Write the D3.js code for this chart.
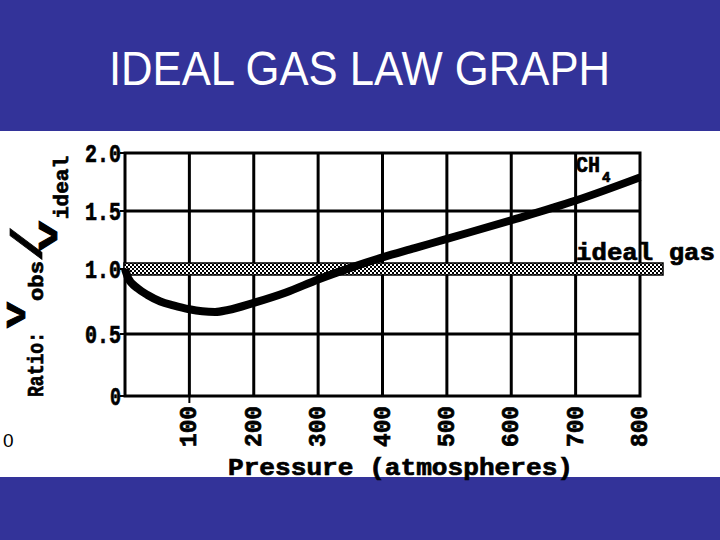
<!DOCTYPE html>
<html>
<head>
<meta charset="utf-8">
<script src="https://cdn.jsdelivr.net/npm/d3@7"></script>
<style>
  html, body { margin: 0; padding: 0; background: #fff; }
  svg { display: block; }
  .mono { font-family: 'Liberation Mono', 'Courier New', monospace; font-weight: bold; stroke: #000; stroke-width: 0.7; fill: #000; }
</style>
</head>
<body>
<svg id="chart" width="720" height="540"></svg>
<script>
// ---- data ----
const pressures = [0, 5, 20, 35, 55, 75, 100, 120, 140, 160, 200, 250, 300, 350, 400, 450, 500, 600, 700, 800];
const ratioCH4  = [1.0, 0.93, 0.85, 0.80, 0.75, 0.72, 0.69, 0.675, 0.67, 0.685, 0.74, 0.82, 0.92, 1.01, 1.10, 1.18, 1.26, 1.42, 1.59, 1.79];
const idealRatio = 1.0;
const xTicks = [100, 200, 300, 400, 500, 600, 700, 800];
const yTicks = [0, 0.5, 1.0, 1.5, 2.0];
const yTickLabels = ["0", "0.5", "1.0", "1.5", "2.0"];
const titleText = "IDEAL GAS LAW GRAPH";

// ---- layout ----
const svg = d3.select("#chart");
const BLUE = "#333399";
const SANS = "'Liberation Sans', Arial, sans-serif";

svg.append("rect").attr("x", 0).attr("y", 0).attr("width", 720).attr("height", 131).attr("fill", BLUE);
svg.append("rect").attr("x", 0).attr("y", 477).attr("width", 720).attr("height", 63).attr("fill", BLUE);

svg.append("text").attr("x", 109).attr("y", 85)
  .attr("font-family", SANS).attr("font-size", 48).attr("fill", "#fff")
  .attr("textLength", 501).attr("lengthAdjust", "spacingAndGlyphs")
  .text(titleText);

const x = d3.scaleLinear().domain([0, 800]).range([125, 640]);
const y = d3.scaleLinear().domain([0, 0.5, 1.0, 1.5, 2.0]).range([396, 334, 269, 211, 153]);

// pattern for ideal gas band
const defs = svg.append("defs");
const pat = defs.append("pattern").attr("id", "checker").attr("patternUnits", "userSpaceOnUse")
  .attr("width", 4).attr("height", 4);
pat.append("rect").attr("width", 4).attr("height", 4).attr("fill", "#fff");
pat.append("rect").attr("x", 0).attr("y", 0).attr("width", 2).attr("height", 2).attr("fill", "#000");
pat.append("rect").attr("x", 2).attr("y", 2).attr("width", 2).attr("height", 2).attr("fill", "#000");

// grid
const g = svg.append("g");
g.selectAll("line.vg").data(xTicks.filter(d => d < 800)).join("line")
  .attr("x1", d => x(d)).attr("x2", d => x(d)).attr("y1", y(2)).attr("y2", y(0))
  .attr("stroke", "#000").attr("stroke-width", 3);
g.selectAll("line.hg").data(yTicks.filter(d => d > 0 && d < 2)).join("line")
  .attr("x1", x(0)).attr("x2", x(800)).attr("y1", d => y(d)).attr("y2", d => y(d))
  .attr("stroke", "#000").attr("stroke-width", 3);
g.append("rect").attr("x", x(0)).attr("y", y(2)).attr("width", x(800) - x(0)).attr("height", y(0) - y(2))
  .attr("fill", "none").attr("stroke", "#000").attr("stroke-width", 3);

// y ticks (small marks to the left)
g.selectAll("line.yt").data(yTicks).join("line")
  .attr("x1", x(0) - 5).attr("x2", x(0)).attr("y1", d => y(d)).attr("y2", d => y(d))
  .attr("stroke", "#000").attr("stroke-width", 2);
// x tick at 100 extends below
g.append("line").attr("x1", x(100)).attr("x2", x(100)).attr("y1", y(0)).attr("y2", y(0) + 7)
  .attr("stroke", "#000").attr("stroke-width", 2);

// y tick labels
g.selectAll("text.yl").data(yTicks).join("text").attr("class", "mono")
  .attr("x", 121).attr("y", d => y(d)).attr("dy", "0.36em")
  .attr("text-anchor", "end").attr("font-size", 25)
  .attr("textLength", (d, i) => yTickLabels[i].length === 1 ? 11 : 36)
  .attr("lengthAdjust", "spacingAndGlyphs")
  .text((d, i) => yTickLabels[i]);

// x tick labels (rotated)
g.selectAll("text.xl").data(xTicks).join("text").attr("class", "mono")
  .attr("transform", d => `translate(${x(d) + 7},406) rotate(-90)`)
  .attr("text-anchor", "end").attr("font-size", 23)
  .attr("textLength", 41).attr("lengthAdjust", "spacingAndGlyphs")
  .text(d => d);

// x axis title
svg.append("text").attr("class", "mono").attr("x", 228).attr("y", 475)
  .attr("font-size", 24)
  .attr("textLength", 345).attr("lengthAdjust", "spacingAndGlyphs")
  .text("Pressure (atmospheres)");

// y axis title pieces (rotated)
function vtext(tx, ty, str, size, len) {
  svg.append("text").attr("class", "mono").attr("transform", `translate(${tx},${ty}) rotate(-90)`)
    .attr("font-size", size)
    .attr("textLength", len).attr("lengthAdjust", "spacingAndGlyphs")
    .text(str);
}
vtext(43, 397, "Ratio:", 22, 65);
vtext(25, 328, "V", 27, 26);
vtext(43, 301, "obs", 21, 40);
vtext(42, 262, "/", 44, 36);
vtext(57, 251, "V", 27, 30);
vtext(68, 219, "ideal", 20, 63);

// ideal gas band
svg.append("rect").attr("x", 124).attr("y", y(idealRatio) - 6)
  .attr("width", 663 - 124).attr("height", 12)
  .attr("fill", "url(#checker)").attr("stroke", "#000").attr("stroke-width", 1.5);

// CH4 curve
const line = d3.line().x((d, i) => x(pressures[i])).y(d => y(d)).curve(d3.curveMonotoneX);
svg.append("path").datum(ratioCH4).attr("d", line)
  .attr("fill", "none").attr("stroke", "#000").attr("stroke-width", 8);

// labels
svg.append("text").attr("class", "mono").attr("x", 576).attr("y", 172)
  .attr("font-size", 22)
  .attr("textLength", 24).attr("lengthAdjust", "spacingAndGlyphs").text("CH");
svg.append("text").attr("class", "mono").attr("x", 602).attr("y", 182)
  .attr("font-size", 14).text("4");
svg.append("text").attr("class", "mono").attr("x", 576).attr("y", 260)
  .attr("font-size", 24)
  .attr("textLength", 139).attr("lengthAdjust", "spacingAndGlyphs").text("ideal gas");

// stray "0" at bottom-left
svg.append("text").attr("x", 3).attr("y", 447)
  .attr("font-family", SANS).attr("font-size", 19).attr("fill", "#000").text("0");
</script>
</body>
</html>
